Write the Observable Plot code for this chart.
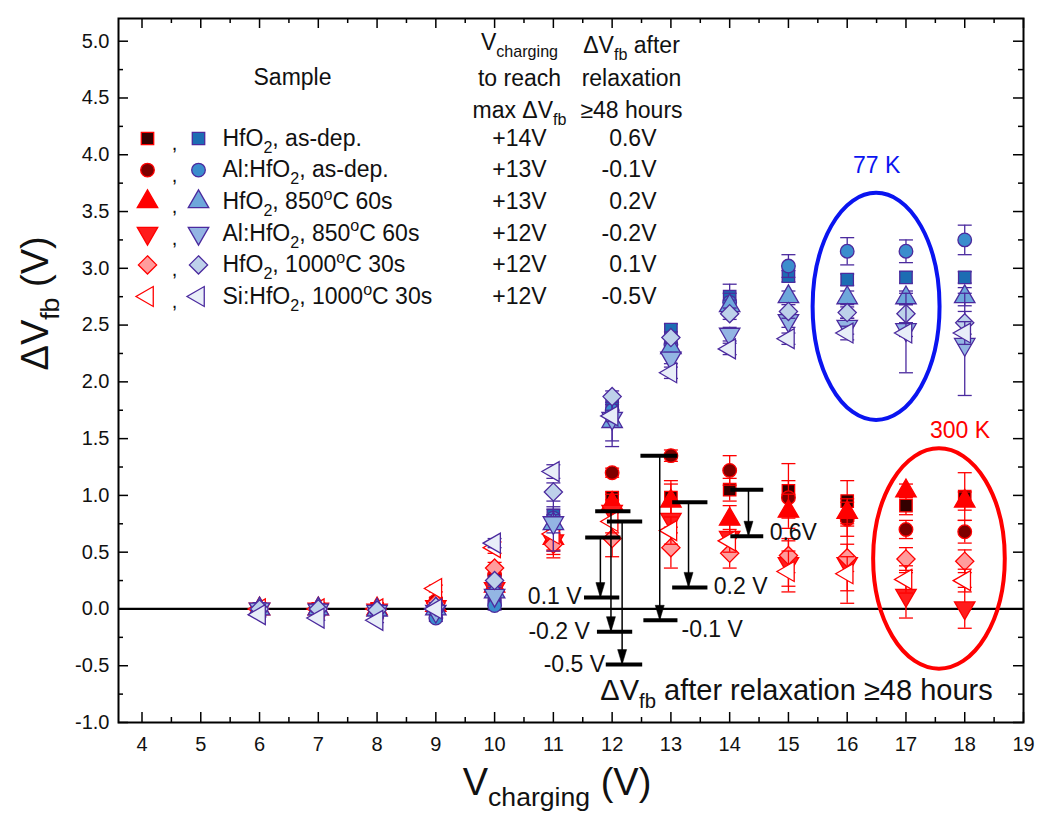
<!DOCTYPE html>
<html><head><meta charset="utf-8">
<script src="https://cdn.jsdelivr.net/npm/d3@7"></script>
<script src="https://cdn.jsdelivr.net/npm/@observablehq/plot@0.6"></script>
<style>
html,body{margin:0;padding:0;background:#fff;}
#chart{width:1038px;height:817px;}
</style></head><body><div id="chart"></div>
<script>
// ---------- data ----------
const vCharging = [6, 7, 8, 9, 10, 11, 12, 13, 14, 15, 16, 17, 18];

// 300 K (red)
const rtHfO2AsDep     = [0.00, 0.00, 0.00, 0.05, 0.15, 0.70, 0.98, 0.98, 1.05, 1.04, 0.95, 0.91, 0.99];
const rtAlHfO2AsDep   = [0.00, 0.00, 0.00, 0.07, 0.30, 0.65, 1.20, 1.35, 1.22, 0.98, 0.79, 0.70, 0.68];
const rtHfO2_850      = [0.00, 0.00, 0.00, 0.03, 0.20, 0.62, 0.93, 0.95, 0.79, 0.86, 0.85, 1.04, 0.95];
const rtAlHfO2_850    = [0.00, 0.00, -0.01, 0.02, 0.18, 0.60, 0.86, 0.79, 0.63, 0.40, 0.40, 0.12, 0.01];
const rtHfO2_1000     = [0.00, 0.00, 0.00, 0.05, 0.36, 0.57, 0.62, 0.54, 0.49, 0.47, 0.45, 0.44, 0.42];
const rtSiHfO2_1000   = [0.00, 0.00, 0.00, 0.18, 0.54, 0.66, 0.77, 0.69, 0.60, 0.33, 0.31, 0.26, 0.25];
const rtHfO2AsDepErr   = [0.02, 0.02, 0.02, 0.03, 0.05, 0.06, 0.05, 0.15, 0.10, 0.24, 0.18, 0.08, 0.21];
const rtAlHfO2AsDepErr = [0.02, 0.02, 0.02, 0.03, 0.05, 0.06, 0.04, 0.05, 0.13, 0.15, 0.15, 0.08, 0.10];
const rtHfO2_850Err    = [0.02, 0.02, 0.02, 0.03, 0.05, 0.10, 0.08, 0.15, 0.12, 0.15, 0.12, 0.06, 0.08];
const rtAlHfO2_850Err  = [0.02, 0.02, 0.02, 0.03, 0.05, 0.12, 0.10, 0.12, 0.12, 0.20, 0.35, 0.20, 0.18];
const rtHfO2_1000Err   = [0.02, 0.02, 0.02, 0.03, 0.05, 0.12, 0.16, 0.18, 0.13, 0.15, 0.12, 0.10, 0.10];
const rtSiHfO2_1000Err = [0.02, 0.02, 0.02, 0.03, 0.05, 0.15, 0.10, 0.12, 0.10, 0.18, 0.15, 0.12, 0.10];

// 77 K (blue)
const lnHfO2AsDep     = [0.00, -0.01, -0.02, 0.00, 0.10, 0.82, 1.80, 2.46, 2.75, 2.93, 2.90, 2.92, 2.92];
const lnAlHfO2AsDep   = [0.00, -0.02, -0.03, -0.08, 0.03, 0.80, 1.75, 2.33, 2.70, 3.02, 3.15, 3.15, 3.25];
const lnHfO2_850      = [0.00, 0.00, -0.01, 0.00, 0.15, 0.75, 1.65, 2.30, 2.67, 2.75, 2.74, 2.74, 2.75];
const lnAlHfO2_850    = [0.00, -0.01, -0.02, -0.02, 0.12, 0.76, 1.68, 2.21, 2.42, 2.54, 2.49, 2.46, 2.33];
const lnHfO2_1000     = [0.00, 0.00, -0.01, 0.02, 0.25, 1.03, 1.87, 2.39, 2.60, 2.62, 2.61, 2.60, 2.52];
const lnSiHfO2_1000   = [-0.05, -0.08, -0.10, 0.00, 0.58, 1.21, 1.70, 2.08, 2.29, 2.38, 2.43, 2.43, 2.43];
const lnHfO2AsDepErr   = [0.02, 0.02, 0.02, 0.03, 0.04, 0.08, 0.05, 0.05, 0.11, 0.05, 0.05, 0.05, 0.05];
const lnAlHfO2AsDepErr = [0.02, 0.02, 0.02, 0.03, 0.04, 0.08, 0.05, 0.05, 0.08, 0.10, 0.12, 0.10, 0.13];
const lnHfO2_850Err    = [0.02, 0.02, 0.02, 0.03, 0.04, 0.08, 0.22, 0.05, 0.05, 0.05, 0.06, 0.06, 0.08];
const lnAlHfO2_850Err  = [0.02, 0.02, 0.02, 0.03, 0.04, 0.25, 0.20, 0.05, 0.06, 0.06, 0.07, 0.06, 0.45];
const lnHfO2_1000Err   = [0.02, 0.02, 0.02, 0.03, 0.04, 0.08, 0.05, 0.05, 0.05, 0.06, 0.05, 0.08, 0.10];
const lnSiHfO2_1000Err = [0.02, 0.02, 0.02, 0.03, 0.04, 0.06, 0.05, 0.05, 0.05, 0.05, 0.06, 0.35, 0.10];

// legend table
const sampleNames = ["HfO_{2}, as-dep.", "Al:HfO_{2}, as-dep.", "HfO_{2}, 850^{o}C 60s",
                     "Al:HfO_{2}, 850^{o}C 60s", "HfO_{2}, 1000^{o}C 30s", "Si:HfO_{2}, 1000^{o}C 30s"];
const vChargeForMax = ["+14V", "+13V", "+13V", "+12V", "+12V", "+12V"];
const dvAfterRelax  = ["0.6V", "-0.1V", "0.2V", "-0.2V", "0.1V", "-0.5V"];

// relaxation annotations (data units)
const relaxArrowX  = [11.80, 11.98, 12.17, 12.81, 13.30, 14.32];
const relaxFrom    = [0.63, 0.86, 0.77, 1.35, 0.94, 1.05];
const relaxTo      = [0.10, -0.20, -0.49, -0.10, 0.19, 0.64];
const relaxTopX1   = [11.55, 11.72, 11.92, 12.49, 13.03, 14.02];
const relaxTopX2   = [12.15, 12.32, 12.52, 13.12, 13.63, 14.58];
const relaxBotX1   = [11.53, 11.75, 11.90, 12.54, 13.03, 14.02];
const relaxBotX2   = [12.13, 12.35, 12.52, 13.12, 13.63, 14.58];
const relaxLabels  = ["0.1 V", "-0.2 V", "-0.5 V", "-0.1 V", "0.2 V", "0.6V"];
const relaxLabelX  = [11.48, 11.62, 11.88, 13.18, 13.73, 14.68];
const relaxLabelY  = [0.11, -0.20, -0.49, -0.18, 0.20, 0.67];
const relaxLabelSide = ["end", "end", "end", "start", "start", "start"];

// temperature ellipses (data units)
const ellipseLabels = ["77 K", "300 K"];
const ellipseCx = [16.50, 17.57];
const ellipseCy = [2.66, 0.44];
const ellipseRx = [1.08, 1.12];
const ellipseRy = [1.00, 0.97];
const ellipseLabelX = [16.50, 17.92];
const ellipseLabelY = [3.90, 1.57];

// ---------- styling ----------
const W = 1038, H = 817, ML = 118, MR = 15, MT = 18, MB = 95;
const FW = W - ML - MR, FH = H - MT - MB;
const FONT = "'Liberation Sans', Arial, Helvetica, sans-serif";
const RED = "#ff0000", PURPLE = "#4b2a9e", BLUE = "#0a14f0";
const LEG = 23;
const s3 = Math.sqrt(3);
const triDown = {draw(c, size){ const y = -Math.sqrt(size / (s3 * 3)); c.moveTo(0, -y * 2); c.lineTo(-s3 * y, y); c.lineTo(s3 * y, y); c.closePath(); }};
const triLeft = {draw(c, size){ const y = -Math.sqrt(size / (s3 * 3)); c.moveTo(y * 2, 0); c.lineTo(-y, -s3 * y); c.lineTo(-y, s3 * y); c.closePath(); }};
const capSym  = {draw(c){ c.moveTo(-7, 0); c.lineTo(7, 0); }};
const headSym = {draw(c){ c.moveTo(0, 0); c.lineTo(-4.5, -15); c.lineTo(4.5, -15); c.closePath(); }};
const symbols = ["square", "circle", "triangle", triDown, "diamond2", triLeft];
const radii   = [7.0, 6.8, 7.6, 7.6, 8.2, 7.4];
const redFill  = ["#330000", "#7d0000", "#ff0000", "#ff1c1c", "#ff9c9c", "#ffffff"];
const blueFill = ["#1c6db3", "#3b8dcd", "#6ea7db", "#93b5e3", "#bdd1ea", "#e8eef8"];

const rtSeries = [[rtHfO2AsDep, rtHfO2AsDepErr], [rtAlHfO2AsDep, rtAlHfO2AsDepErr], [rtHfO2_850, rtHfO2_850Err],
                  [rtAlHfO2_850, rtAlHfO2_850Err], [rtHfO2_1000, rtHfO2_1000Err], [rtSiHfO2_1000, rtSiHfO2_1000Err]];
const lnSeries = [[lnHfO2AsDep, lnHfO2AsDepErr], [lnAlHfO2AsDep, lnAlHfO2AsDepErr], [lnHfO2_850, lnHfO2_850Err],
                  [lnAlHfO2_850, lnAlHfO2_850Err], [lnHfO2_1000, lnHfO2_1000Err], [lnSiHfO2_1000, lnSiHfO2_1000Err]];

function rowsOf(vals, errs){ return vCharging.map((x, i) => ({x, y: vals[i], lo: vals[i] - errs[i], hi: vals[i] + errs[i]})); }

function seriesMarks(list, stroke, fills){
  const out = [];
  list.forEach(([vals, errs], k) => {
    const rows = rowsOf(vals, errs);
    out.push(Plot.ruleX(rows, {x: "x", y1: "lo", y2: "hi", stroke, strokeWidth: 1.3}));
    out.push(Plot.dot(rows, {x: "x", y: "lo", symbol: capSym, stroke, strokeWidth: 1.3, fill: "none"}));
    out.push(Plot.dot(rows, {x: "x", y: "hi", symbol: capSym, stroke, strokeWidth: 1.3, fill: "none"}));
    out.push(Plot.dot(rows, {x: "x", y: "y", symbol: symbols[k], r: radii[k], fill: fills[k], stroke, strokeWidth: 1.3}));
  });
  return out;
}

function at(px, py){ return {frameAnchor: "top-left", dx: px - ML, dy: py - MT}; }
function label(str, px, py, opts = {}){
  return Plot.text([str], {...at(px, py), text: d => d, fontSize: LEG, fill: "#111", textAnchor: "middle", lineAnchor: "middle", ...opts});
}

// ticks
const xMajor = d3.range(4, 19.01, 1);
const xMinor = d3.range(4.5, 19, 1);
const yMajor = d3.range(-1, 5.01, 0.5);
const yMinor = d3.range(-0.75, 5.2, 0.5);

const legendMarks = [];
legendMarks.push(label("Sample", 292, 77));
legendMarks.push(label("V_{charging}", 519, 42));
legendMarks.push(label("to reach", 519, 78));
legendMarks.push(label("max ΔV_{fb}", 519, 110));
legendMarks.push(label("ΔV_{fb} after", 631, 45));
legendMarks.push(label("relaxation", 631, 78));
legendMarks.push(label("≥48 hours", 631, 110));
sampleNames.forEach((name, i) => {
  const ry = 138 + i * 31.6;
  legendMarks.push(Plot.dot([0], {...at(147, ry), symbol: symbols[i], r: radii[i], fill: redFill[i], stroke: RED, strokeWidth: 1.3}));
  legendMarks.push(label(",", 174, ry + 5, {fontSize: 20}));
  legendMarks.push(Plot.dot([0], {...at(198, ry), symbol: symbols[i], r: radii[i], fill: blueFill[i], stroke: PURPLE, strokeWidth: 1.3}));
  legendMarks.push(label(name, 222, ry, {textAnchor: "start"}));
  legendMarks.push(label(vChargeForMax[i], 519, ry));
  legendMarks.push(label(dvAfterRelax[i], 656, ry, {textAnchor: "end"}));
});

const annIdx = d3.range(relaxArrowX.length);
const ellIdx = d3.range(ellipseCx.length);
const ellColors = [BLUE, RED];

function ellipses(index, scales){
  const g = document.createElementNS("http://www.w3.org/2000/svg", "g");
  ellIdx.forEach(i => {
    const e = document.createElementNS("http://www.w3.org/2000/svg", "ellipse");
    const cx = scales.x(ellipseCx[i]), cy = scales.y(ellipseCy[i]);
    e.setAttribute("cx", cx); e.setAttribute("cy", cy);
    e.setAttribute("rx", Math.abs(scales.x(ellipseCx[i] + ellipseRx[i]) - cx));
    e.setAttribute("ry", Math.abs(scales.y(ellipseCy[i] + ellipseRy[i]) - cy));
    e.setAttribute("fill", "none"); e.setAttribute("stroke", ellColors[i]); e.setAttribute("stroke-width", 4);
    g.appendChild(e);
  });
  return g;
}

const chart = Plot.plot({
  width: W, height: H,
  marginLeft: ML, marginRight: MR, marginTop: MT, marginBottom: MB,
  x: {domain: [3.6, 19]},
  y: {domain: [-1, 5.2]},
  style: {fontFamily: FONT, fontSize: "20px", background: "#fff", color: "#111"},
  marks: [
    Plot.ruleY([0], {stroke: "#000", strokeWidth: 2.2}),
    // inward ticks
    Plot.ruleX(xMajor, {x: d => d, insetTop: FH - 10, stroke: "#000", strokeWidth: 1.5}),
    Plot.ruleX(xMinor, {x: d => d, insetTop: FH - 5, stroke: "#000", strokeWidth: 1.5}),
    Plot.ruleX(xMajor, {x: d => d, insetBottom: FH - 10, stroke: "#000", strokeWidth: 1.5}),
    Plot.ruleX(xMinor, {x: d => d, insetBottom: FH - 5, stroke: "#000", strokeWidth: 1.5}),
    Plot.ruleY(yMajor, {y: d => d, insetRight: FW - 10, stroke: "#000", strokeWidth: 1.5}),
    Plot.ruleY(yMinor, {y: d => d, insetRight: FW - 5, stroke: "#000", strokeWidth: 1.5}),
    Plot.ruleY(yMajor, {y: d => d, insetLeft: FW - 10, stroke: "#000", strokeWidth: 1.5}),
    Plot.ruleY(yMinor, {y: d => d, insetLeft: FW - 5, stroke: "#000", strokeWidth: 1.5}),
    Plot.axisX({ticks: xMajor, tickSize: 0, tickPadding: 14, tickFormat: d => String(d), label: null, fontSize: 20}),
    Plot.axisY({ticks: yMajor, tickSize: 0, tickPadding: 9, tickFormat: d => d.toFixed(1), label: null, fontSize: 20}),
    Plot.frame({stroke: "#000", strokeWidth: 2}),
    // data
    ...seriesMarks(rtSeries, RED, redFill),
    ...seriesMarks(lnSeries, PURPLE, blueFill),
    // relaxation annotations
    Plot.ruleX(annIdx, {x: i => relaxArrowX[i], y1: i => relaxFrom[i], y2: i => relaxTo[i], stroke: "#000", strokeWidth: 1.5}),
    Plot.dot(annIdx, {x: i => relaxArrowX[i], y: i => relaxTo[i], symbol: headSym, fill: "#000", stroke: "#000", strokeWidth: 0.5}),
    Plot.ruleY(annIdx, {y: i => relaxFrom[i], x1: i => relaxTopX1[i], x2: i => relaxTopX2[i], stroke: "#000", strokeWidth: 4}),
    Plot.ruleY(annIdx, {y: i => relaxTo[i], x1: i => relaxBotX1[i], x2: i => relaxBotX2[i], stroke: "#000", strokeWidth: 4}),
    Plot.text(annIdx.filter(i => relaxLabelSide[i] === "end"), {x: i => relaxLabelX[i], y: i => relaxLabelY[i], text: i => relaxLabels[i], textAnchor: "end", fontSize: 23, fill: "#111"}),
    Plot.text(annIdx.filter(i => relaxLabelSide[i] === "start"), {x: i => relaxLabelX[i], y: i => relaxLabelY[i], text: i => relaxLabels[i], textAnchor: "start", fontSize: 23, fill: "#111"}),
    label("ΔV_{fb} after relaxation ≥48 hours", 796, 690, {fontSize: 29}),
    // ellipses
    ellipses,
    Plot.text(ellIdx, {x: i => ellipseLabelX[i], y: i => ellipseLabelY[i], text: i => ellipseLabels[i], fill: i => ellColors[i], fontSize: 23}),
    // axis titles
    Plot.text(["ΔV_{fb} (V)"], {frameAnchor: "left", dx: -83, rotate: -90, text: d => d, fontSize: 38, fill: "#111"}),
    Plot.text(["V_{charging} (V)"], {frameAnchor: "bottom", dy: 72, dx: -14, text: d => d, fontSize: 38, fill: "#111"}),
    ...legendMarks
  ]
});
document.getElementById("chart").appendChild(chart);

// sub/superscript post-processing
function richify(root){
  const NS = "http://www.w3.org/2000/svg";
  root.querySelectorAll("text").forEach(t => {
    const s = t.textContent;
    if (!/[_^]\{/.test(s)) return;
    const fs = parseFloat(getComputedStyle(t).fontSize) || 20;
    while (t.firstChild) t.removeChild(t.firstChild);
    const re = /([_^])\{([^}]*)\}/g;
    let last = 0, m, cur = 0;
    const add = (txt, shift, small) => {
      if (!txt) return;
      const ts = document.createElementNS(NS, "tspan");
      ts.textContent = txt;
      ts.setAttribute("dy", (shift - cur) + "px");
      cur = shift;
      if (small) ts.setAttribute("font-size", (fs * 0.7) + "px");
      t.appendChild(ts);
    };
    while ((m = re.exec(s))) {
      add(s.slice(last, m.index), 0, false);
      add(m[2], m[1] === "_" ? fs * 0.3 : -fs * 0.4, true);
      last = re.lastIndex;
    }
    add(s.slice(last), 0, false);
  });
}
richify(chart);
</script>
</body></html>
